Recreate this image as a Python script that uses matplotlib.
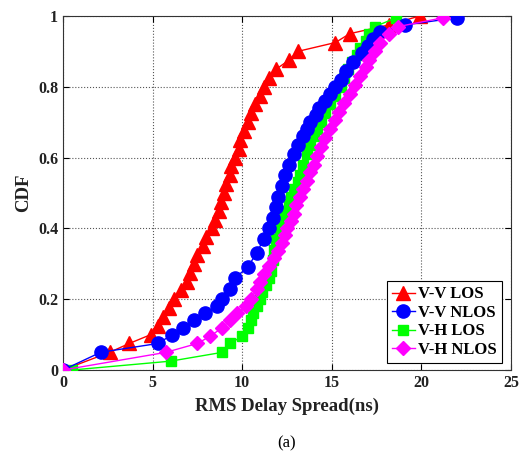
import matplotlib.pyplot as plt

# V-V LOS
vv_los_x = [0, 2.6, 3.7, 4.9, 5.3, 5.6, 5.9, 6.2, 6.6, 6.9, 7.1, 7.3, 7.5, 7.8, 8.0, 8.3,
            8.5, 8.7, 8.8, 9.0, 9.1, 9.3, 9.4, 9.6, 9.8, 9.9, 10.1, 10.3, 10.5, 10.7,
            11.0, 11.2, 11.5, 11.9, 12.6, 13.1, 15.2, 16.0, 18.2, 19.9]
vv_los_y = [0, 0.05, 0.075, 0.10, 0.125, 0.15, 0.175, 0.20, 0.225, 0.25, 0.275, 0.30,
            0.325, 0.35, 0.375, 0.40, 0.425, 0.45, 0.475, 0.50, 0.525, 0.55, 0.575, 0.60,
            0.625, 0.65, 0.675, 0.70, 0.725, 0.75, 0.775, 0.80, 0.825, 0.85, 0.875, 0.90,
            0.925, 0.95, 0.975, 1.0]

# V-V NLOS
vv_nlos_x = [0, 2.1, 5.3, 6.1, 6.7, 7.3, 7.9, 8.6, 8.9, 9.3, 9.6, 10.3, 10.8, 11.2, 11.5,
             11.7, 11.9, 12.0, 12.2, 12.4, 12.6, 12.9, 13.1, 13.4, 13.6, 13.8, 14.1, 14.3,
             14.6, 14.9, 15.2, 15.5, 15.8, 16.2, 16.7, 17.0, 17.3, 17.7, 19.1, 22.0]
vv_nlos_y = [0, 0.05, 0.075, 0.10, 0.12, 0.14, 0.16, 0.18, 0.20, 0.23, 0.26, 0.29, 0.33,
             0.37, 0.40, 0.43, 0.46, 0.49, 0.52, 0.55, 0.58, 0.61, 0.635, 0.66, 0.68, 0.70,
             0.72, 0.74, 0.76, 0.78, 0.80, 0.82, 0.845, 0.87, 0.895, 0.915, 0.935, 0.955,
             0.975, 0.995]

# V-H LOS
vh_los_x = [0.5, 6.0, 8.9, 9.3, 10.0, 10.3, 10.5, 10.6, 10.8, 11.0, 11.1, 11.3, 11.5, 11.6,
            11.7, 11.8, 11.9, 12.1, 12.3, 12.4, 12.6, 12.7, 12.9, 13.1, 13.2, 13.4, 13.6,
            13.8, 14.0, 14.2, 14.4, 14.6, 14.9, 15.2, 15.5, 15.7, 15.9, 16.1, 16.4, 16.6,
            16.9, 17.1, 17.4, 18.6]
vh_los_y = [0, 0.025, 0.05, 0.075, 0.095, 0.12, 0.14, 0.16, 0.18, 0.20, 0.22, 0.24, 0.26,
            0.28, 0.31, 0.34, 0.37, 0.40, 0.43, 0.45, 0.47, 0.49, 0.51, 0.53, 0.55, 0.58,
            0.61, 0.635, 0.66, 0.68, 0.70, 0.725, 0.75, 0.775, 0.80, 0.825, 0.85, 0.87,
            0.89, 0.91, 0.93, 0.95, 0.97, 0.995]

# V-H NLOS
vh_nlos_x = [0, 5.75, 7.5, 8.2, 8.9, 9.3, 9.7, 10.2, 10.5, 10.8, 11.0, 11.2, 11.5, 11.8,
             12.0, 12.2, 12.4, 12.5, 12.7, 12.9, 13.0, 13.2, 13.4, 13.6, 13.8, 14.0, 14.2,
             14.4, 14.6, 14.9, 15.2, 15.4, 15.7, 16.0, 16.3, 16.6, 16.9, 17.1, 17.4, 17.7,
             18.2, 18.7, 21.2]
vh_nlos_y = [0, 0.05, 0.075, 0.095, 0.12, 0.14, 0.16, 0.18, 0.20, 0.23, 0.25, 0.27, 0.295,
             0.315, 0.335, 0.36, 0.38, 0.40, 0.42, 0.44, 0.465, 0.49, 0.51, 0.535, 0.56,
             0.58, 0.605, 0.63, 0.655, 0.68, 0.705, 0.73, 0.755, 0.78, 0.805, 0.83, 0.855,
             0.875, 0.90, 0.925, 0.95, 0.97, 0.995]

x_ticks = [0, 5, 10, 15, 20, 25]
y_ticks = [0, 0.2, 0.4, 0.6, 0.8, 1]
y_tick_labels = ["0", "0.2", "0.4", "0.6", "0.8", "1"]

plt.rcParams["font.family"] = ["Liberation Serif", "DejaVu Serif"]

fig = plt.figure(figsize=(5.19, 4.53), dpi=100)
ax = fig.add_axes([0.1214, 0.1832, 0.8632, 0.7815])

ax.plot(vv_los_x, vv_los_y, color="#ff0000", marker="^", markersize=10, lw=1,
        label="V-V LOS", zorder=3)
ax.plot(vv_nlos_x, vv_nlos_y, color="#0000ff", marker="o", markersize=9.5, lw=1,
        label="V-V NLOS", zorder=4)
ax.plot(vh_los_x, vh_los_y, color="#00ff00", marker="s", markersize=7, lw=1,
        label="V-H LOS", zorder=3)
ax.plot(vh_nlos_x, vh_nlos_y, color="#ff00ff", marker="D", markersize=7.5, lw=1,
        label="V-H NLOS", zorder=5)

ax.set_xlim(0, 25)
ax.set_ylim(0, 1)
ax.set_xticks(x_ticks)
ax.set_yticks(y_ticks)
ax.set_yticklabels(y_tick_labels)
ax.grid(True, linestyle=":", color="#555555", linewidth=0.8)
ax.tick_params(direction="in", top=True, right=True, labelsize=11.5, length=4,
               labelcolor="#222222")
for lbl in ax.get_xticklabels() + ax.get_yticklabels():
    lbl.set_fontweight("bold")
for sp in ax.spines.values():
    sp.set_color("#333333")

ax.set_xlabel("RMS Delay Spread(ns)", fontsize=13.5, fontweight="bold", labelpad=5,
              color="#222222")
ax.set_ylabel("CDF", fontsize=13.5, fontweight="bold", labelpad=4, color="#222222")

leg = ax.legend(loc="lower right", bbox_to_anchor=(0.98, 0.02), fancybox=False,
                edgecolor="black", framealpha=1, handlelength=1.4, handletextpad=0.2,
                borderpad=0.3, labelspacing=0.15, borderaxespad=0,
                prop={"weight": "bold", "size": 12})
leg.get_frame().set_linewidth(0.8)

fig.text(0.5 * (0.1214 + 0.9846), 0.012, "(a)", ha="center", fontsize=12)

fig.savefig("out.png", dpi=100)
